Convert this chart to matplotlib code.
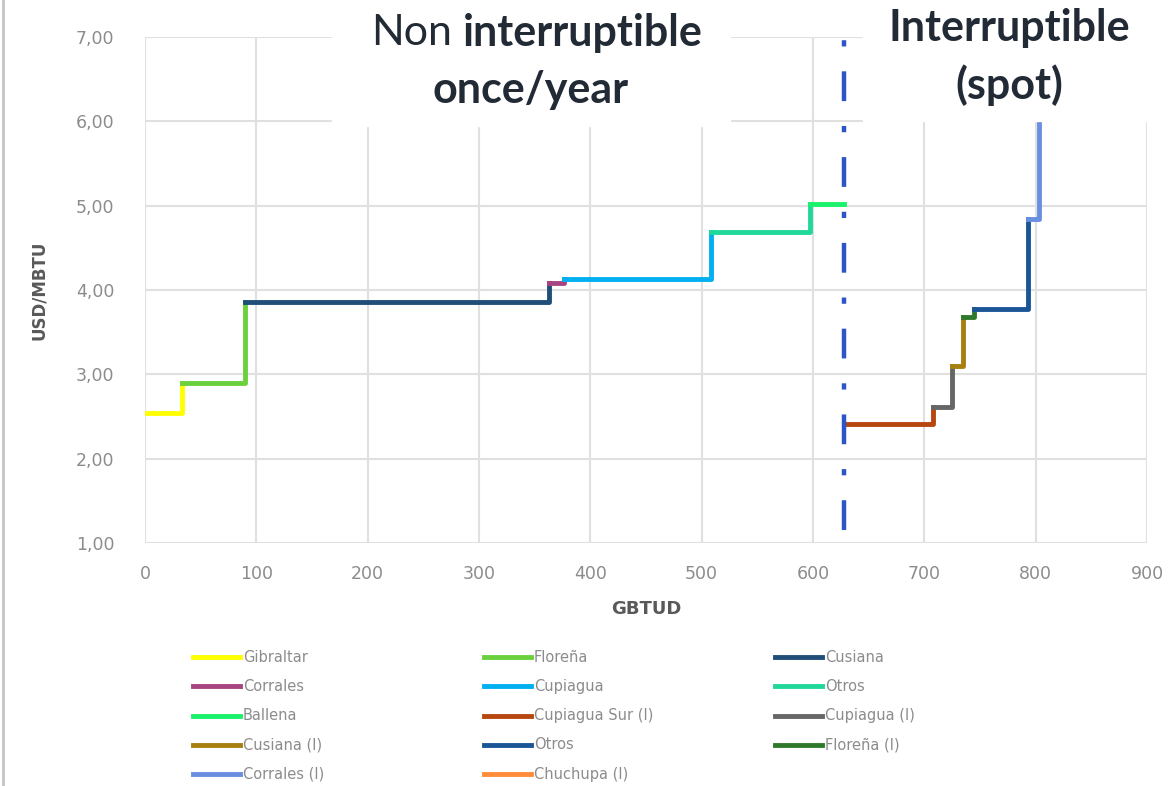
import matplotlib
matplotlib.use('Agg')
import matplotlib.pyplot as plt
from matplotlib.patches import Rectangle
from matplotlib.lines import Line2D
from matplotlib.ticker import FuncFormatter

# datos (GBTUD acumulado, USD/MBTU)
firm_names = ['Gibraltar', 'Floreña', 'Cusiana', 'Corrales', 'Cupiagua', 'Otros', 'Ballena']
firm_edges = [0, 33, 90, 363, 376, 508, 597, 628]
firm_price = [2.54, 2.90, 3.86, 4.08, 4.13, 4.69, 5.02]
firm_colors = ['#ffff00', '#6ad13c', '#1f4e79', '#a8447f', '#00b0f0', '#21d89a', '#19f26a']

spot_names = ['Cupiagua Sur (I)', 'Cupiagua (I)', 'Cusiana (I)', 'Floreña (I)', 'Otros (I)', 'Corrales (I)']
spot_edges = [628, 708, 725, 735, 745, 793, 803]
spot_price = [2.41, 2.61, 3.10, 3.68, 3.77, 4.84]
spot_top = 7.0
spot_colors = ['#b5470f', '#666666', '#a7800f', '#2f7a2a', '#1a5596', '#6a8fe0']

limit_x = 628

legend_names = ['Gibraltar', 'Floreña', 'Cusiana', 'Corrales', 'Cupiagua', 'Otros', 'Ballena',
                'Cupiagua Sur (I)', 'Cupiagua (I)', 'Cusiana (I)', 'Otros', 'Floreña (I)',
                'Corrales (I)', 'Chuchupa (I)']
legend_colors = ['#ffff00', '#6ad13c', '#1f4e79', '#a8447f', '#00b0f0', '#21d89a', '#19f26a',
                 '#b5470f', '#666666', '#a7800f', '#1a5596', '#2f7a2a', '#6a8fe0', '#ff8c3a']

W, H = 1170, 786
fig = plt.figure(figsize=(W / 100, H / 100), dpi=100)
ax = fig.add_axes([145 / W, 1 - 543 / H, (1147 - 145) / W, (543 - 37) / H])

def draw_steps(edges, prices, colors, top=None):
    n = len(prices)
    for i in range(n):
        x0, x1 = edges[i], edges[i + 1]
        if i < n - 1:
            nxt = prices[i + 1]
        else:
            nxt = top
        if nxt is None:
            ax.plot([x0, x1], [prices[i], prices[i]], color=colors[i], lw=3.5, zorder=3)
        else:
            ax.plot([x0, x1, x1], [prices[i], prices[i], nxt], color=colors[i], lw=3.5, zorder=3)

draw_steps(firm_edges, firm_price, firm_colors)
draw_steps(spot_edges, spot_price, spot_colors, top=spot_top)

# linea divisoria
ax.plot([limit_x, limit_x], [1.15, 7.1], color='#2e55c8', lw=3.2, zorder=4,
        dashes=(6.7, 5.6, 1.4, 5.6), clip_on=False)

ax.set_xlim(0, 900)
ax.set_ylim(1, 7)
ax.set_xticks(range(0, 901, 100))
ax.set_yticks(range(1, 8))
ax.yaxis.set_major_formatter(FuncFormatter(lambda v, p: f'{v:.2f}'.replace('.', ',')))
ax.grid(True, color='#e0e0e0', lw=1.5)
ax.set_axisbelow(True)
for s in ax.spines.values():
    s.set_visible(False)
ax.tick_params(length=0, labelsize=12.5, labelcolor='#8c8c8c')
ax.tick_params(axis='x', pad=16)
ax.tick_params(axis='y', pad=22)
ax.set_xlabel('GBTUD', fontsize=13, fontweight='bold', color='#595959', labelpad=12)
ax.set_ylabel('USD/MBTU', fontsize=12, fontweight='bold', color='#595959', labelpad=20)

# cajas blancas con titulos
fig.add_artist(Rectangle((332 / W, 1 - 126 / H), (730 - 332) / W, 126 / H,
                         transform=fig.transFigure, color='white', zorder=5))
fig.add_artist(Rectangle((863 / W, 1 - 121 / H), (W - 863) / W, 121 / H,
                         transform=fig.transFigure, color='white', zorder=5))
fs = 31
tc = '#222a35'
t_bold = fig.text(703 / W, 1 - 33 / H, 'interruptible', fontsize=fs, family='Lato',
                  fontweight='bold', color=tc, va='center', ha='right', zorder=6)
t_non = fig.text(362 / W, 1 - 33 / H, 'Non', fontsize=fs, family='Lato', color=tc,
                 va='center', ha='left', zorder=6)
fig.text(531 / W, 1 - 90 / H, 'once/year', fontsize=fs, family='Lato', fontweight='bold',
         color=tc, va='center', ha='center', zorder=6)
fig.text(1009 / W, 1 - 28 / H, 'Interruptible', fontsize=fs, family='Lato', fontweight='bold',
         color=tc, va='center', ha='center', zorder=6)
fig.text(1009 / W, 1 - 85 / H, '(spot)', fontsize=fs, family='Lato', fontweight='bold',
         color=tc, va='center', ha='center', zorder=6)

# "Non" justo antes de la palabra en negrita
r = fig.canvas.get_renderer()
bb = t_bold.get_window_extent(r)
t_non.set_ha('right')
t_non.set_x((bb.x0 - 11) / W)

# leyenda manual en 3 columnas
for i, (name, col) in enumerate(zip(legend_names, legend_colors)):
    row, c = divmod(i, 3)
    x = 193 + c * 291
    y = 657 + row * 29.3
    fig.add_artist(Line2D([x / W, (x + 47) / W], [1 - y / H, 1 - y / H], color=col, lw=3.5))
    fig.text((x + 50) / W, 1 - y / H, name, fontsize=10.5, color='#8c8c8c', va='center')

# borde izquierdo
fig.add_artist(Line2D([3 / W, 3 / W], [0, 1], color='#c4c4c4', lw=2))

fig.savefig('out.png', dpi=100)
